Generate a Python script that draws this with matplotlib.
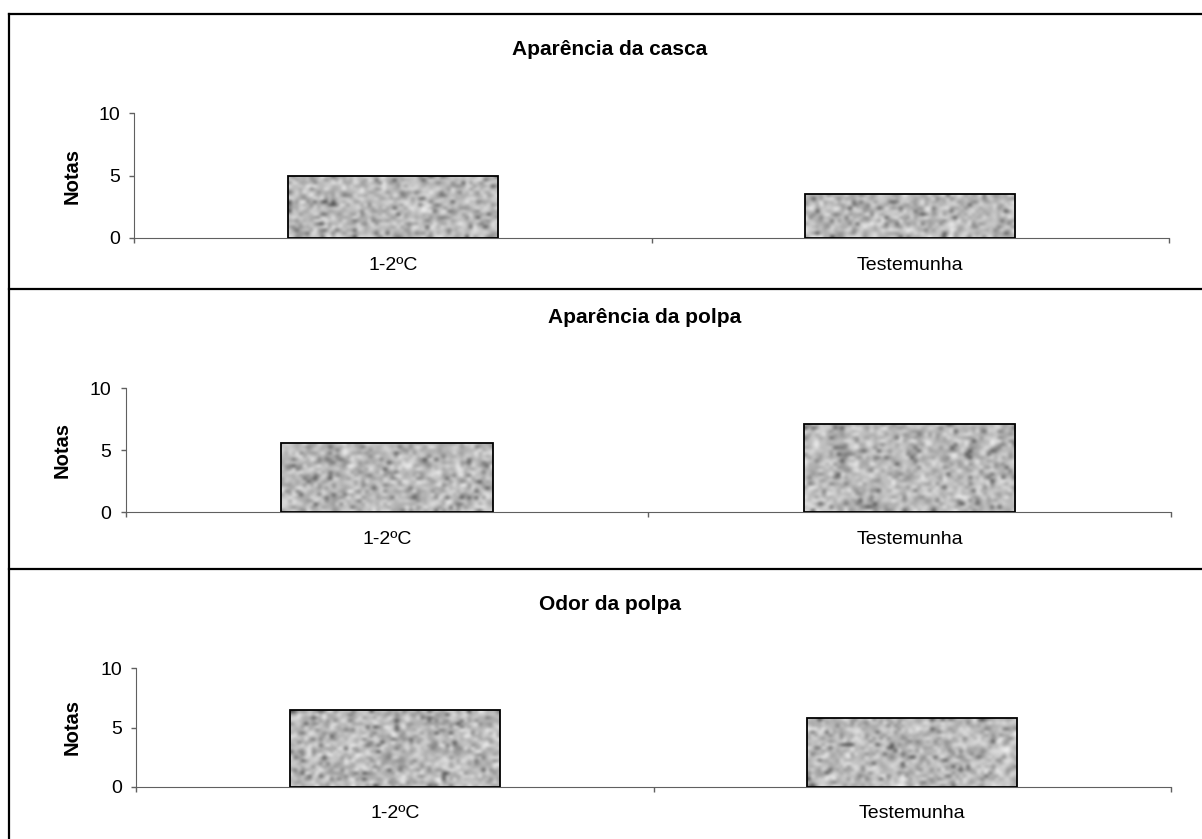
import numpy as np
import matplotlib
matplotlib.use('Agg')
import matplotlib.pyplot as plt
from matplotlib.lines import Line2D

plt.rcParams['font.family'] = ['Liberation Sans', 'DejaVu Sans']

# dados
categorias = ['1-2ºC', 'Testemunha']
titulos = ['Aparência da casca', 'Aparência da polpa', 'Odor da polpa']
casca = [5.0, 3.5]
polpa = [5.6, 7.1]
odor = [6.5, 5.8]
yticks = [0, 5, 10]

W, H = 1202, 839
cor_eixo = '#606060'


def fx(x):
    return x / W


def fy(y):
    return 1 - y / H


rng = np.random.default_rng(3)


def granito(ax, bar):
    # textura "granito" so para preencher a barra
    x0, y0 = bar.get_x(), bar.get_y()
    w, h = bar.get_width(), bar.get_height()
    rows = int(h * 3.4) + 3
    n1 = rng.normal(size=(rows, 58))
    n2 = rng.normal(size=(rows, 58))
    tex = 0.75 + 0.10 * n1 - 0.32 * np.clip(n2 - 0.8, 0, None)
    tex = np.clip(tex, 0.25, 0.95)
    im = ax.imshow(tex, cmap='gray', vmin=0, vmax=1, extent=(x0, x0 + w, y0, y0 + h),
                   aspect='auto', interpolation='bicubic', zorder=2)
    im.set_clip_path(bar)


def painel(ax, valores, titulo, tx, ty, nx, ny):
    bars = ax.bar([0, 1], valores, width=0.405, facecolor='none', edgecolor='black',
                  linewidth=1.3, zorder=3)
    for b in bars:
        granito(ax, b)
    ax.set_xlim(-0.5, 1.5)
    ax.set_ylim(0, 10)
    ax.spines['top'].set_visible(False)
    ax.spines['right'].set_visible(False)
    ax.spines['left'].set_color(cor_eixo)
    ax.spines['bottom'].set_color(cor_eixo)
    ax.set_yticks(yticks)
    ax.tick_params(axis='y', direction='out', length=3.6, width=1, color=cor_eixo,
                   pad=6.5, labelsize=14)
    ax.set_xticks([-0.5, 0.5, 1.5])
    ax.set_xticklabels([])
    ax.tick_params(axis='x', which='major', direction='out', length=3.6, width=1, color=cor_eixo)
    ax.set_xticks([0, 1], minor=True)
    ax.set_xticklabels(categorias, minor=True)
    ax.tick_params(axis='x', which='minor', length=0, pad=13.5, labelsize=14)
    fig.text(fx(tx), fy(ty), titulo, ha='center', va='baseline', fontsize=15, fontweight='bold')
    fig.text(fx(nx), fy(ny), 'Notas', ha='center', va='center', rotation=90,
             fontsize=14.5, fontweight='bold')


fig = plt.figure(figsize=(W / 100, H / 100), dpi=100)

# molduras dos paineis
for y in [14, 289, 569]:
    fig.add_artist(Line2D([fx(9), 1], [fy(y), fy(y)], color='black', lw=1.6))
fig.add_artist(Line2D([fx(9), fx(9)], [fy(14), 0], color='black', lw=1.6))

# left, right, top, bottom em pixels
caixas = [(134, 1169, 113, 238), (125.5, 1171, 388.3, 512.3), (136, 1171, 668.3, 786.7)]
series = [casca, polpa, odor]
pos_titulo = [(610, 55), (645, 323), (610, 610)]
pos_notas = [(72, 176), (62, 450), (72, 727)]

for (l, r, t, b), vals, tit, (tx, ty), (nx, ny) in zip(caixas, series, titulos, pos_titulo, pos_notas):
    ax = fig.add_axes([fx(l), fy(b), (r - l) / W, (b - t) / H])
    painel(ax, vals, tit, tx, ty, nx, ny)

fig.savefig('out.png', dpi=100)
